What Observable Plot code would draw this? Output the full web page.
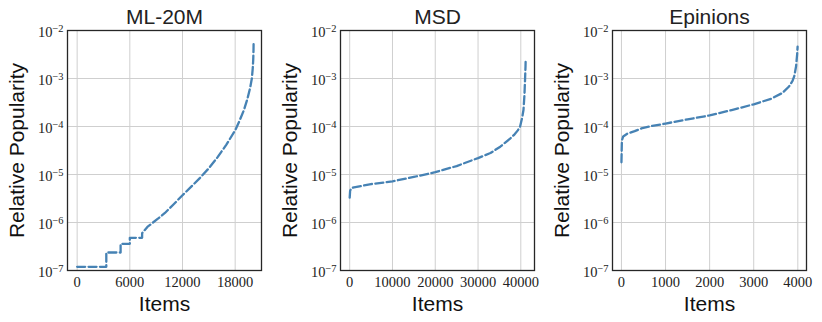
<!DOCTYPE html>
<html>
<head>
<meta charset="utf-8">
<script src="https://cdn.jsdelivr.net/npm/d3@7"></script>
<script src="https://cdn.jsdelivr.net/npm/@observablehq/plot@0.6"></script>
<style>
  html, body { margin: 0; padding: 0; background: #fff; }
  #wrap { position: relative; width: 822px; height: 322px; }
  #wrap > svg { position: absolute; top: 0; }
</style>
</head>
<body>
<div id="wrap"></div>
<script>
// ---- data ----
const titles = ["ML-20M", "MSD", "Epinions"];

const mlItems = [0, 3320, 3320, 4950, 4950, 6000, 6000, 7400, 7400, 8000, 9200, 10000, 11000, 12000, 13000, 14000, 15000, 16000, 17000, 18000, 18500, 19000, 19400, 19700, 19900, 20000, 20060, 20090, 20100];
const mlPop   = [1.19e-7, 1.19e-7, 2.37e-7, 2.37e-7, 3.6e-7, 3.6e-7, 4.8e-7, 4.8e-7, 6.0e-7, 8.1e-7, 1.2e-6, 1.58e-6, 2.4e-6, 3.7e-6, 5.6e-6, 8.5e-6, 1.35e-5, 2.3e-5, 4.2e-5, 8.3e-5, 1.32e-4, 2.2e-4, 3.8e-4, 6.3e-4, 1.0e-3, 1.6e-3, 2.5e-3, 4.0e-3, 5.5e-3];

const msdItems = [0, 100, 400, 1000, 5000, 10000, 15000, 20000, 25000, 30000, 32900, 35200, 37500, 38500, 39300, 39830, 40300, 40620, 40850, 41000, 41100, 41130];
const msdPop   = [3.3e-6, 4.6e-6, 5.2e-6, 5.4e-6, 6.3e-6, 7.2e-6, 8.9e-6, 1.12e-5, 1.5e-5, 2.2e-5, 2.8e-5, 3.8e-5, 5.6e-5, 6.8e-5, 8.3e-5, 1.0e-4, 1.5e-4, 2.2e-4, 4.5e-4, 1.0e-3, 1.8e-3, 2.4e-3];

const epItems = [0, 10, 40, 135, 300, 475, 700, 1000, 1500, 2000, 2500, 3000, 3400, 3650, 3800, 3880, 3920, 3960, 3985, 3995];
const epPop   = [1.8e-5, 5.1e-5, 6.2e-5, 7.1e-5, 8.0e-5, 9.3e-5, 1.03e-4, 1.15e-4, 1.41e-4, 1.7e-4, 2.2e-4, 2.9e-4, 3.8e-4, 5.0e-4, 6.8e-4, 8.9e-4, 1.12e-3, 1.78e-3, 3.2e-3, 4.6e-3];

const mlTicks  = [0, 6000, 12000, 18000];
const msdTicks = [0, 10000, 20000, 30000, 40000];
const epTicks  = [0, 1000, 2000, 3000, 4000];
const yTicks   = [1e-7, 1e-6, 1e-5, 1e-4, 1e-3, 1e-2];

const xLabel = "Items";
const yLabel = "Relative Popularity";

// ---- drawing ----
const SANS = "'Liberation Sans', Arial, Helvetica, sans-serif";
const SERIF = "'Liberation Serif', 'DejaVu Serif', serif";

function panel(title, items, pops, xDomain, xTicks, left) {
  const data = items.map((x, i) => ({x, y: pops[i]}));
  const svg = Plot.plot({
    width: 274,
    height: 322,
    marginLeft: 67,
    marginRight: 13,
    marginTop: 30,
    marginBottom: 52,
    style: {background: "transparent", color: "#222", overflow: "visible"},
    x: {domain: xDomain},
    y: {type: "log", domain: [1e-7, 1e-2]},
    marks: [
      Plot.gridX(xTicks, {stroke: "#cfcfcf", strokeOpacity: 1, strokeWidth: 1}),
      Plot.gridY(yTicks, {stroke: "#cfcfcf", strokeOpacity: 1, strokeWidth: 1}),
      Plot.line(data, {x: "x", y: "y", stroke: "#4682b4", strokeWidth: 2.3,
        strokeDasharray: "8,3.4", curve: "linear"}),
      Plot.frame({stroke: "#262626", strokeWidth: 1.3}),
      Plot.axisX(xTicks, {tickSize: 0, tickPadding: 6, label: null,
        fontFamily: SERIF, fontSize: 14.5, tickFormat: d => String(d)}),
      Plot.axisY(yTicks, {tickSize: 0, tickPadding: 4, label: null,
        fontFamily: SERIF, fontSize: 14.5, dy: 1.5,
        tickFormat: d => "10^−" + Math.round(-Math.log10(d))}),
      Plot.text([title], {frameAnchor: "top", lineAnchor: "bottom", dy: -7,
        fontFamily: SANS, fontSize: 21, fill: "#222"}),
      Plot.text([xLabel], {frameAnchor: "bottom", lineAnchor: "bottom", dy: 40,
        fontFamily: SANS, fontSize: 21, fill: "#111"}),
      Plot.text([yLabel], {frameAnchor: "left", textAnchor: "middle", rotate: -90, dx: -50.5,
        fontFamily: SANS, fontSize: 21, fill: "#111"})
    ]
  });
  // render superscripts as real tspans
  svg.querySelectorAll("text").forEach(t => {
    const s = t.textContent;
    if (s.includes("^")) {
      const [base, exp] = s.split("^");
      t.textContent = "";
      const ns = "http://www.w3.org/2000/svg";
      const b = document.createElementNS(ns, "tspan");
      b.textContent = base;
      const e = document.createElementNS(ns, "tspan");
      e.setAttribute("dy", "-0.45em");
      e.setAttribute("font-size", "0.72em");
      e.textContent = exp;
      t.appendChild(b);
      t.appendChild(e);
    }
  });
  svg.style.left = left + "px";
  return svg;
}

const wrap = document.getElementById("wrap");
wrap.appendChild(panel(titles[0], mlItems, mlPop, [-1100, 21000], mlTicks, 0));
wrap.appendChild(panel(titles[1], msdItems, msdPop, [-2150, 43200], msdTicks, 273));
wrap.appendChild(panel(titles[2], epItems, epPop, [-203, 4197], epTicks, 545));
</script>
</body>
</html>
